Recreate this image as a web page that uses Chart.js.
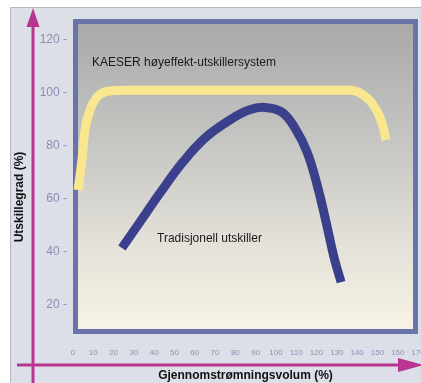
<!DOCTYPE html>
<html>
<head>
<meta charset="utf-8">
<script src="https://cdn.jsdelivr.net/npm/chart.js@4.4.1/dist/chart.umd.min.js"></script>
<style>
  html, body { margin: 0; padding: 0; background: #fff; }
  #wrap { width: 421px; height: 383px; position: relative; }
</style>
</head>
<body>
<div id="wrap"><canvas id="chart"></canvas></div>
<script>
// axis ticks
const xTicks = [0, 10, 20, 30, 40, 50, 60, 70, 80, 90, 100, 110, 120, 130, 140, 150, 160, 170];
const yTicks = [20, 40, 60, 80, 100, 120];

// KAESER høyeffekt-utskillersystem
const kaeserX = [2.5, 4.4, 5.9, 8.4, 12.3, 18.2, 25.6, 136.5, 142.4, 147.3, 151.2, 153.2, 154.2];
const kaeserY = [63.4, 74.7, 86, 93.6, 98.9, 100.8, 101.1, 101.1, 99.6, 96.2, 90.9, 86, 82.3];

// Tradisjonell utskiller
const tradX = [24.1, 33.0, 42.9, 54.2, 65.0, 77.4, 86.7, 94.6, 103.0, 109.4, 115.3, 120.3, 124.7, 128.7, 132.1];
const tradY = [41.5, 51.3, 62.3, 74.0, 83.0, 89.9, 93.6, 94.6, 92.8, 86.8, 77.8, 65.3, 51.3, 37.7, 28.6];

const seriesNames = ['KAESER høyeffekt-utskillersystem', 'Tradisjonell utskiller'];
const xTitle = 'Gjennomstrømningsvolum (%)';
const yTitle = 'Utskillegrad (%)';

const toPoints = (xs, ys) => xs.map((x, i) => ({ x: x, y: ys[i] }));

const backdrop = {
  id: 'backdrop',
  beforeDraw(chart) {
    const { ctx, width, height, chartArea: a } = chart;
    ctx.save();
    ctx.fillStyle = '#ffffff';
    ctx.fillRect(0, 0, width, height);
    ctx.fillStyle = '#dcdee8';
    ctx.fillRect(10, 8, width - 10, height - 8);
    ctx.strokeStyle = '#b4b6c0';
    ctx.lineWidth = 1;
    ctx.beginPath();
    ctx.moveTo(10.5, height);
    ctx.lineTo(10.5, 7.5);
    ctx.lineTo(width, 7.5);
    ctx.stroke();
    // plot panel
    const g = ctx.createLinearGradient(0, a.top, 0, a.bottom);
    g.addColorStop(0, '#a8a8a8');
    g.addColorStop(0.4, '#c6c6c3');
    g.addColorStop(0.7, '#e2e0d8');
    g.addColorStop(1, '#f8f4e6');
    ctx.fillStyle = g;
    ctx.fillRect(a.left, a.top, a.right - a.left, a.bottom - a.top);
    ctx.restore();
  },
  beforeDatasetsDraw(chart) {
    const { ctx, chartArea: a } = chart;
    ctx.save();
    ctx.strokeStyle = '#6b73ab';
    ctx.lineWidth = 5;
    ctx.strokeRect(a.left + 2.5, a.top + 2.5, a.right - a.left - 5, a.bottom - a.top - 5);
    ctx.restore();
  },
  afterDraw(chart) {
    const { ctx, scales } = chart;
    const sx = scales.x, sy = scales.y;
    ctx.save();
    // pink axes with arrows
    ctx.strokeStyle = '#b8368f';
    ctx.fillStyle = '#b8368f';
    ctx.lineWidth = 3;
    ctx.beginPath();
    ctx.moveTo(33, 383);
    ctx.lineTo(33, 22);
    ctx.moveTo(17, 365);
    ctx.lineTo(402, 365);
    ctx.stroke();
    ctx.beginPath();
    ctx.moveTo(33, 8);
    ctx.lineTo(26.5, 27);
    ctx.lineTo(39.5, 27);
    ctx.closePath();
    ctx.fill();
    ctx.beginPath();
    ctx.moveTo(424, 365);
    ctx.lineTo(398, 358);
    ctx.lineTo(398, 372);
    ctx.closePath();
    ctx.fill();
    // y title
    ctx.fillStyle = '#111111';
    ctx.font = 'bold 12px "Liberation Sans", Arial, sans-serif';
    ctx.textAlign = 'center';
    ctx.textBaseline = 'middle';
    ctx.translate(20, 197);
    ctx.rotate(-Math.PI / 2);
    ctx.fillText(yTitle, 0, 0);
    ctx.restore();
    // series labels
    ctx.save();
    ctx.fillStyle = '#1a1a1a';
    ctx.font = '12px "Liberation Sans", Arial, sans-serif';
    ctx.textAlign = 'left';
    ctx.textBaseline = 'alphabetic';
    ctx.fillText(seriesNames[0], sx.getPixelForValue(9.4), sy.getPixelForValue(110.2));
    ctx.fillText(seriesNames[1], sx.getPixelForValue(41.4), sy.getPixelForValue(43.8));
    ctx.restore();
  }
};

new Chart(document.getElementById('chart'), {
  type: 'line',
  data: {
    datasets: [
      {
        label: seriesNames[0],
        data: toPoints(kaeserX, kaeserY),
        borderColor: '#f9e78f',
        borderWidth: 9,
        pointRadius: 0,
        cubicInterpolationMode: 'monotone',
        borderCapStyle: 'butt'
      },
      {
        label: seriesNames[1],
        data: toPoints(tradX, tradY),
        borderColor: '#3b408c',
        borderWidth: 9,
        pointRadius: 0,
        tension: 0.4,
        borderCapStyle: 'butt'
      }
    ]
  },
  options: {
    responsive: true,
    maintainAspectRatio: false,
    animation: false,
    layout: { padding: { top: 19, right: 3, left: 0, bottom: 0 } },
    plugins: {
      legend: { display: false },
      tooltip: { enabled: false }
    },
    scales: {
      x: {
        type: 'linear',
        min: 0,
        max: 170,
        afterFit(scale) {
          scale.height = 49;
          scale.paddingLeft = 0;
          scale.paddingRight = 0;
        },
        afterBuildTicks(scale) { scale.ticks = xTicks.map(v => ({ value: v })); },
        grid: { display: false },
        border: { display: false },
        ticks: {
          autoSkip: false,
          maxRotation: 0,
          padding: 6,
          color: '#8d91b3',
          font: { family: '"Liberation Sans", Arial, sans-serif', size: 8 }
        },
        title: {
          display: true,
          text: xTitle,
          color: '#111111',
          padding: 0,
          font: { family: '"Liberation Sans", Arial, sans-serif', size: 12, weight: 'bold' }
        }
      },
      y: {
        type: 'linear',
        min: 9,
        max: 128,
        afterFit(scale) {
          scale.width = 73;
          scale.paddingTop = 0;
          scale.paddingBottom = 0;
        },
        afterBuildTicks(scale) { scale.ticks = yTicks.map(v => ({ value: v })); },
        grid: { display: false, drawTicks: false, tickLength: 0 },
        border: { display: false },
        ticks: {
          padding: 6,
          color: '#8a8eb0',
          font: { family: '"Liberation Sans", Arial, sans-serif', size: 12 },
          callback: v => v + ' -'
        }
      }
    }
  },
  plugins: [backdrop]
});
</script>
</body>
</html>
